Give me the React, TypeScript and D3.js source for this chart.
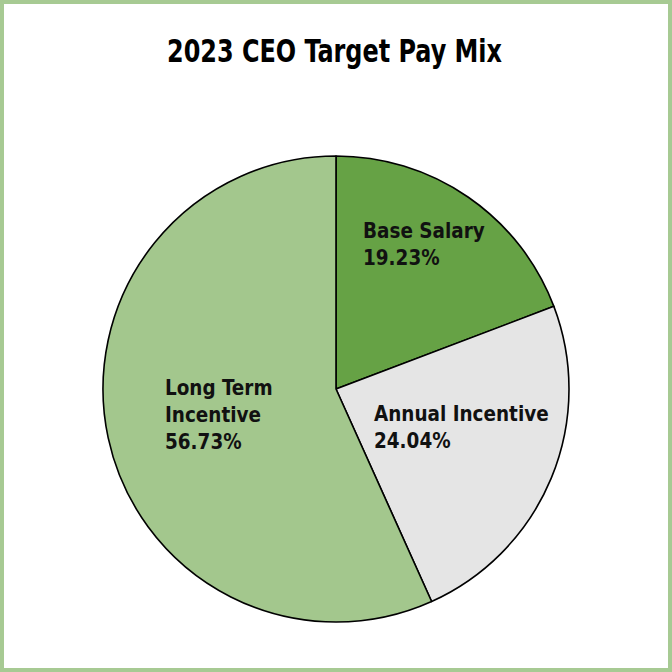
import React from "react";
import * as d3 from "d3";

const title = "2023 CEO Target Pay Mix";
const categories = ["Base Salary", "Annual Incentive", "Long Term Incentive"];
const labelLines = [["Base Salary"], ["Annual Incentive"], ["Long Term", "Incentive"]];
const values = [19.23, 24.04, 56.73];
const colors = ["#66a245", "#e5e5e5", "#a3c78d"];

const W = 672, H = 672;
const cx = 336, cy = 389, R = 233;
// left-baseline offset of each label block relative to pie centre
const labelOffset = [
  { dx: 27, dy: -151 },
  { dx: 38, dy: 32 },
  { dx: -171, dy: 6 },
];

export default function App() {
  const pie = d3.pie<number>().sort(null).value((d) => d);
  const arcs = pie(values);
  const arc = d3.arc<d3.PieArcDatum<number>>().innerRadius(0).outerRadius(R);
  const font = "'DejaVu Sans Condensed', 'DejaVu Sans', sans-serif";
  return (
    <svg width={W} height={H} style={{ position: "absolute", left: 0, top: 0, background: "#fff" }}>
      <rect x={2} y={2} width={W - 4} height={H - 4} fill="#fff" stroke="#a7ca93" strokeWidth={4} />
      <text x={334.5} y={62} textAnchor="middle" fontFamily={font} fontStretch="condensed" fontWeight="bold" fontSize={32} fill="#000" textLength={335} lengthAdjust="spacingAndGlyphs">
        {title}
      </text>
      <g transform={`translate(${cx},${cy})`}>
        {arcs.map((a, i) => (
          <path key={categories[i]} d={arc(a) || ""} fill={colors[i]} stroke="#000" strokeWidth={1.6} strokeLinejoin="round" />
        ))}
        {arcs.map((a, i) => {
          const p = labelOffset[i];
          const lines = [...labelLines[i], d3.format(".2f")(a.data) + "%"];
          return (
            <text key={"l" + i} transform={`translate(${p.dx},${p.dy}) scale(0.93,1)`} fontFamily={font} fontStretch="condensed" fontWeight="bold" fontSize={22} fill="#111">
              {lines.map((ln, j) => (
                <tspan key={j} x={0} y={j * 27}>{ln}</tspan>
              ))}
            </text>
          );
        })}
      </g>
    </svg>
  );
}
